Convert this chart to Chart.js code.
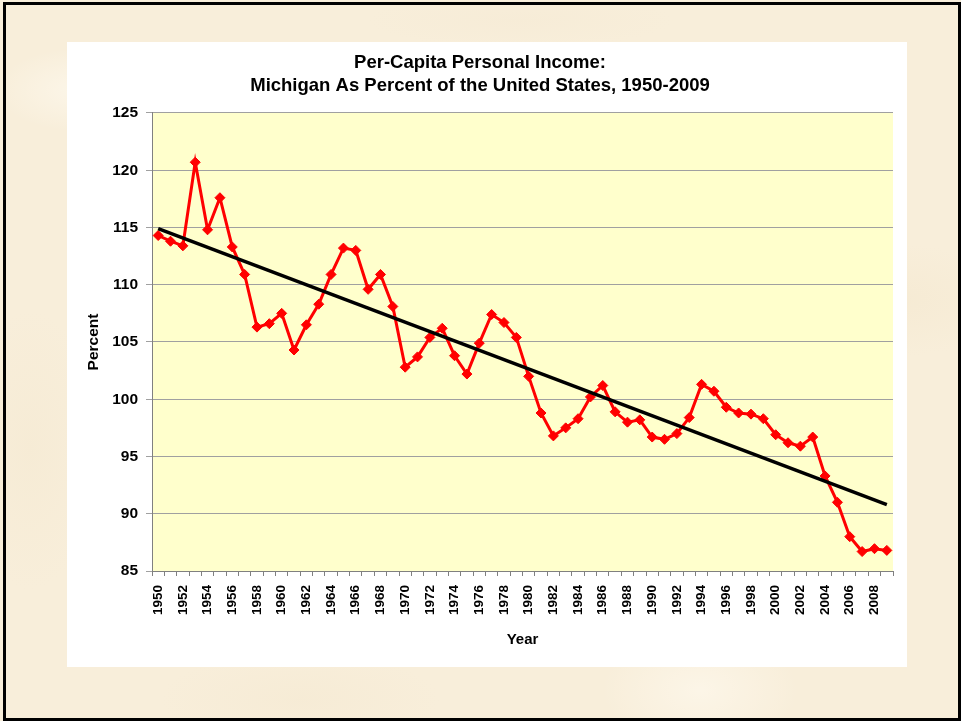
<!DOCTYPE html>
<html>
<head>
<meta charset="utf-8">
<script src="https://cdn.jsdelivr.net/npm/chart.js@4/dist/chart.umd.min.js"></script>
<style>
  html, body { margin: 0; padding: 0; }
  body {
    width: 961px; height: 721px; position: relative; overflow: hidden;
    background-color: #F8EEDA;
    background-image:
      radial-gradient(ellipse 120px 60px at 80px 90px, rgba(255,251,242,0.6), rgba(255,251,242,0) 70%),
      radial-gradient(ellipse 160px 80px at 900px 300px, rgba(243,230,204,0.45), rgba(243,230,204,0) 70%),
      radial-gradient(ellipse 200px 70px at 300px 700px, rgba(244,232,208,0.45), rgba(244,232,208,0) 70%),
      radial-gradient(ellipse 140px 90px at 700px 690px, rgba(255,250,240,0.6), rgba(255,250,240,0) 70%),
      radial-gradient(ellipse 100px 200px at 30px 450px, rgba(243,231,206,0.4), rgba(243,231,206,0) 70%),
      radial-gradient(ellipse 220px 40px at 520px 20px, rgba(245,234,212,0.5), rgba(245,234,212,0) 70%);
  }
  #frame {
    position: absolute; left: 3px; top: 2px; width: 958px; height: 719px;
    box-sizing: border-box; border: 3px solid #000;
  }
  #panel {
    position: absolute; left: 67px; top: 42px; width: 840px; height: 625px;
    background: #FFFFFF;
  }
  canvas { display: block; }
</style>
</head>
<body>
<div id="frame"></div>
<div id="panel"><canvas id="c" width="840" height="625"></canvas></div>
<script>
const years = [];
for (let y = 1950; y <= 2009; y++) years.push(String(y));

const michiganPct = [
  114.3, 113.8, 113.4, 120.7, 114.8, 117.6, 113.3, 110.9, 106.3, 106.6,
  107.5, 104.3, 106.5, 108.3, 110.9, 113.2, 113.0, 109.6, 110.9, 108.1,
  102.8, 103.7, 105.4, 106.2, 103.8, 102.2, 104.9, 107.4, 106.7, 105.4,
  102.0, 98.8, 96.8, 97.5, 98.3, 100.2, 101.2, 98.9, 98.0, 98.2,
  96.7, 96.5, 97.0, 98.4, 101.3, 100.7, 99.3, 98.8, 98.7, 98.3,
  96.9, 96.2, 95.9, 96.7, 93.3, 91.0, 88.0, 86.7, 86.95, 86.8
];

const trendYears = ['1950', '2009'];
const trendValues = [114.9, 90.8];

const yTicks = [85, 90, 95, 100, 105, 110, 115, 120, 125];

const plotBg = {
  id: 'plotBg',
  beforeDraw(chart) {
    const {ctx, chartArea: a} = chart;
    ctx.save();
    ctx.fillStyle = '#FFFFCC';
    ctx.fillRect(a.left, a.top, a.right - a.left, a.bottom - a.top);
    ctx.restore();
  }
};

const FONT = 'Arial, "Liberation Sans", Helvetica, sans-serif';

new Chart(document.getElementById('c'), {
  type: 'line',
  data: {
    labels: years,
    datasets: [
      {
        label: 'Michigan',
        data: michiganPct,
        borderColor: '#FF0000',
        backgroundColor: '#FF0000',
        borderWidth: 3,
        pointStyle: 'rectRot',
        pointRadius: 5,
        pointHoverRadius: 5,
        pointBorderWidth: 1,
        tension: 0,
        order: 2
      },
      {
        label: 'Trend',
        data: trendYears.map((y, i) => ({x: y, y: trendValues[i]})),
        borderColor: '#000000',
        borderWidth: 3.5,
        pointRadius: 0,
        tension: 0,
        order: 1
      }
    ]
  },
  options: {
    responsive: false,
    animation: false,
    events: [],
    layout: { padding: { left: 0, right: 14, top: 0, bottom: 0 } },
    plugins: {
      legend: { display: false },
      tooltip: { enabled: false },
      title: {
        display: true,
        text: ['Per-Capita Personal Income:', 'Michigan As Percent of the United States, 1950-2009'],
        color: '#000',
        font: { family: FONT, size: 18.5, weight: 'bold', lineHeight: 1.243 },
        padding: { top: 9, bottom: 16 }
      }
    },
    scales: {
      x: {
        type: 'category',
        offset: true,
        afterFit(s) { s.height = 96; s.paddingLeft = 0; s.paddingRight = 0; },
        grid: {
          display: true,
          offset: true,
          drawOnChartArea: false,
          drawTicks: true,
          tickLength: 5,
          color: '#808080'
        },
        border: { display: true, color: '#808080', width: 1 },
        ticks: {
          autoSkip: false,
          minRotation: 90,
          maxRotation: 90,
          padding: 9,
          color: '#000',
          font: { family: FONT, size: 13.5, weight: 'bold' },
          callback(v, i) { return i % 2 === 0 ? years[i] : ''; }
        },
        title: {
          display: true,
          text: 'Year',
          color: '#000',
          font: { family: FONT, size: 15, weight: 'bold', lineHeight: 1.2 },
          padding: { top: 0, bottom: 18 }
        }
      },
      y: {
        min: 85,
        max: 125,
        afterFit(s) { s.width = 85; },
        afterBuildTicks(s) { s.ticks = yTicks.map(v => ({value: v})); },
        grid: {
          color: '#A0A0A0',
          lineWidth: 1,
          drawTicks: true,
          tickLength: 6
        },
        border: { display: true, color: '#808080', width: 1 },
        ticks: {
          padding: 8,
          color: '#000',
          font: { family: FONT, size: 15.5, weight: 'bold' }
        },
        title: {
          display: true,
          text: 'Percent',
          color: '#000',
          font: { family: FONT, size: 15.5, weight: 'bold', lineHeight: 1.2 },
          padding: { top: 17, bottom: 0 }
        }
      }
    }
  },
  plugins: [plotBg]
});
</script>
</body>
</html>
